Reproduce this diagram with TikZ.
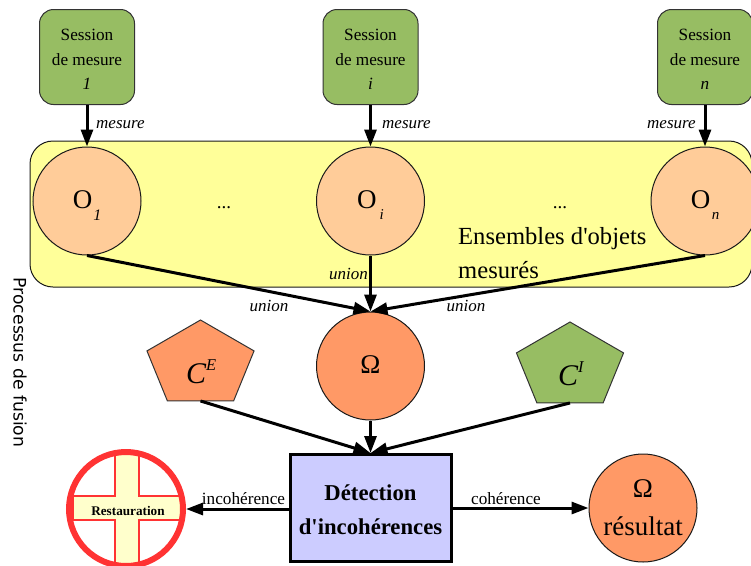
\documentclass[tikz,border=0pt]{standalone}
\usepackage{fontspec}
\setmainfont{Liberation Serif}
\setsansfont{DejaVu Sans}
\usetikzlibrary{arrows.meta, positioning, shapes.geometric}
\definecolor{sessiongreen}{HTML}{97BD63}
\definecolor{setyellow}{HTML}{FFFF99}
\definecolor{objpeach}{HTML}{FFCC99}
\definecolor{omegaorange}{HTML}{FF9966}
\definecolor{detectblue}{HTML}{CCCCFF}
\definecolor{crossred}{HTML}{FF3333}
\definecolor{crossyellow}{HTML}{FFFFCC}
\newcommand{\objmark}[1]{\smash{\raisebox{-7pt}{#1}}}
\begin{document}
\begin{tikzpicture}[
		x=1pt, y=1pt,
		session/.style={draw=black!80, line width=1pt, fill=sessiongreen, rounded corners=14pt, minimum width=95pt, minimum height=95pt, inner sep=0pt, align=center, font=\fontsize{17.2}{24.5}\selectfont},
		objset/.style={circle, draw=black!90, line width=1pt, fill=objpeach, minimum size=108pt, inner sep=0pt, font=\fontsize{27}{30}\selectfont},
		penta/.style={regular polygon, regular polygon sides=5, draw=black!80, line width=1pt, inner sep=0pt, outer sep=0pt, minimum size=100pt, xscale=1.126, yscale=0.895, transform shape},
		pentatext/.style={anchor=base west, inner sep=0pt, font=\fontsize{30}{32}\selectfont\itshape},
		result/.style={circle, draw=black!90, line width=1pt, fill=omegaorange, minimum size=108pt, inner sep=0pt, align=center},
		arrow/.style={-{Triangle[length=17pt,width=12pt]}, line width=3pt},
		tag/.style={font=\fontsize{17}{18}\selectfont\itshape, inner sep=0pt},
		plain/.style={font=\fontsize{17.2}{18}\selectfont, inner sep=0pt}
	]
	
		\useasboundingbox (0,0) rectangle (751,-565);
		
		% Band of sets
		\draw[draw=black!90, line width=1pt, fill=setyellow, rounded corners=23pt] (30,-141) rectangle (752,-287);
		\node[anchor=west, align=left, inner sep=0pt, font=\fontsize{24.6}{34}\selectfont] (setlabel) at (458,-253) {Ensembles d\textquotesingle objets\\mesurés};
		
		% Nodes
		\node[session] (s1) at (87,-57) {\rule{0pt}{16.5pt}Session\\de mesure\\\textit{1}};
		\node[session] (si) at (370.5,-57) {\rule{0pt}{16.5pt}Session\\de mesure\\\textit{i}};
		\node[session] (sn) at (705,-57) {\rule{0pt}{16.5pt}Session\\de mesure\\\textit{n}};
		\node[objset] (o1) at (87,-201) {\objmark{O}\smash{\raisebox{-19pt}{\kern1pt\fontsize{16}{18}\selectfont\textit{1}}}};
		\node[objset] (oi) at (370.5,-201) {\objmark{O}\smash{\raisebox{-18pt}{\kern3pt\fontsize{15}{15}\selectfont\textit{i}}}};
		\node[objset] (on) at (705,-201) {\objmark{O}\smash{\raisebox{-18pt}{\kern1.5pt\fontsize{15}{15}\selectfont\textit{n}}}};
		\node[plain, anchor=base, font=\fontsize{19}{20}\selectfont] (dots1) at (224,-208.5) {...};
		\node[plain, anchor=base, font=\fontsize{19}{20}\selectfont] (dots2) at (560,-208.5) {...};
		\node[circle, draw=black!90, line width=1pt, fill=omegaorange, minimum size=108pt, inner sep=0pt, font=\fontsize{27}{30}\selectfont] (omega) at (370.5,-366) {\objmark{Ω}};
		\node[penta, fill=omegaorange] (ce) at (200.5,-364.75) {};
		\node[penta, fill=sessiongreen] (ci) at (570,-366.75) {};
		\node[pentatext] (cetext) at (186,-383) {C\raisebox{13pt}{\fontsize{16.5}{18}\selectfont E}};
		\node[pentatext] (citext) at (558,-385) {C\raisebox{13pt}{\fontsize{16.5}{18}\selectfont I}};
		\node[draw=black, line width=3pt, fill=detectblue, minimum width=161pt, minimum height=107pt, inner sep=0pt, align=center, font=\fontsize{22.7}{34}\selectfont\bfseries] (detect) at (370.5,-508) {\rule{0pt}{20pt}Détection\\d\textquotesingle incohérences};
		\node[result, font=\fontsize{27}{38}\selectfont] (res) at (643,-508) {Ω\\résultat};
		
		% Restoration mark
		\begin{scope}
			\clip (126,-509) circle (58);
			\draw[draw=crossred, line width=2.5pt, fill=crossyellow] (115,-440) -- (139,-440) -- (139,-496) -- (190,-496) -- (190,-520) -- (139,-520) -- (139,-580) -- (115,-580) -- (115,-520) -- (73,-520) -- (73,-496) -- (115,-496) -- cycle;
		\end{scope}
		\node[circle, draw=crossred, line width=6pt, minimum size=114pt, inner sep=0pt] (restore) at (126,-509) {};
		\node[inner sep=0pt, font=\fontsize{13.2}{14}\selectfont\bfseries] (restorelabel) at (128,-511) {Restauration};
		
		% Side title
		\node[rotate=-90, inner sep=0pt, font=\fontsize{17.2}{18}\sffamily\selectfont] (process) at (20,-362.5) {Processus de fusion};
		
		% Arrows
		\draw[arrow] (s1) -- (o1);
		\draw[arrow] (si) -- (oi);
		\draw[arrow] (sn) -- (on);
		\draw[arrow] (oi) -- (omega);
		\draw[arrow] (o1.south) -- (omega.north);
		\draw[arrow] (on.south) -- (omega.north);
		\draw[arrow] (ce.south) -- (detect.north);
		\draw[arrow] (ci.south) -- (detect.north);
		\draw[arrow] (omega) -- (detect);
		\draw[arrow] (detect.west |- restore) -- (restore);
		\draw[arrow] (detect.east) -- (res);
		
		% Labels
		\node[tag, anchor=west] (m1) at (96,-125) {mesure};
		\node[tag, anchor=west] (mi) at (382,-125) {mesure};
		\node[tag, anchor=west] (mn) at (647,-125) {mesure};
		\node[tag] (u1) at (269,-305.5) {union};
		\node[tag] (ui) at (348.5,-273.5) {union};
		\node[tag] (un) at (466,-305.5) {union};
		\node[plain] (inco) at (243.5,-499) {incohérence};
		\node[plain] (coh) at (506,-499) {cohérence};
		
	\end{tikzpicture}
\end{document}
